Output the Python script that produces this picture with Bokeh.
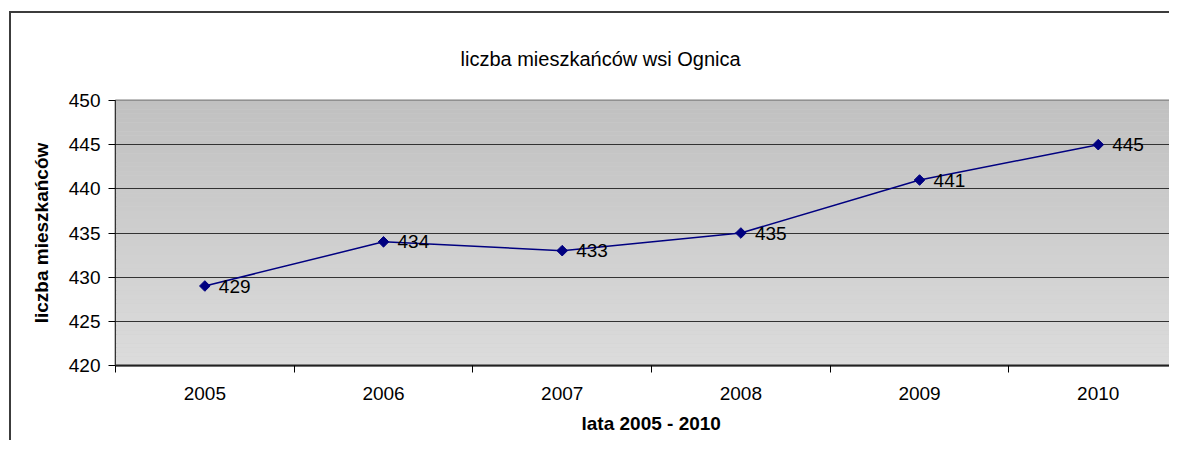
from bokeh.plotting import figure
from bokeh.models import (Range1d, FixedTicker, BoxAnnotation, ColumnDataSource, Title)
from bokeh.core.properties import value
from bokeh.embed import file_html
from bokeh.resources import INLINE
import math

# ---- data ----
years = ["2005", "2006", "2007", "2008", "2009", "2010"]
residents = [429, 434, 433, 435, 441, 445]
y_ticks = [420, 425, 430, 435, 440, 445, 450]
title_text = "liczba mieszkańców wsi Ognica"
x_title = "lata 2005 - 2010"
y_title = "liczba mieszkańców"

FONT = "Liberation Sans"

n = len(years)
xs = [i + 0.5 for i in range(n)]
x_view_end = 5.91   # the original chart is cut off at the right edge

p = figure(width=1160, height=429, output_backend="svg", toolbar_location=None,
           x_range=Range1d(0, x_view_end), y_range=Range1d(y_ticks[0], y_ticks[-1]),
           min_border_left=104, min_border_right=0, min_border_top=87,
           min_border_bottom=76)
p.title.visible = False
p.background_fill_color = "#d0d0d0"
p.border_fill_color = "white"
p.outline_line_color = "#808080"
p.outline_line_width = 2
p.styles = {"border-left": "2px solid #3c3c3c", "border-top": "2px solid #3c3c3c",
            "margin-left": "9px", "margin-top": "11px"}

t = Title(text=title_text, align="left", offset=345, text_font=FONT,
          text_font_size="20px", text_font_style="normal", text_color="black",
          standoff=61)
p.add_layout(t, "above")

xt = Title(text=x_title, align="left", offset=466, text_font=FONT,
           text_font_size="19px", text_font_style="bold", text_color="black",
           standoff=17)
p.add_layout(xt, "below")

# gradient plot background (styling bands)
nb = 60
y0, y1 = y_ticks[0], y_ticks[-1]
for k in range(nb):
    b = y0 + (y1 - y0) * k / nb
    tp = y0 + (y1 - y0) * (k + 1) / nb
    f = (k + 0.5) / nb
    c = int(round(0xdc + (0xc0 - 0xdc) * f))
    col = "#%02x%02x%02x" % (c, c, c)
    p.add_layout(BoxAnnotation(bottom=b, top=tp, fill_color=col, fill_alpha=1.0,
                               line_color=None, level="image"))

# grid
p.xgrid.visible = False
p.ygrid.ticker = FixedTicker(ticks=y_ticks[1:-1])
p.ygrid.grid_line_color = "#333333"
p.ygrid.grid_line_width = 1
p.ygrid.level = "underlay"

# x axis
p.xaxis.ticker = FixedTicker(ticks=xs, minor_ticks=list(range(n + 1)))
p.xaxis.major_label_overrides = {x: y for x, y in zip(xs, years)}
p.xaxis.major_tick_out = 0
p.xaxis.major_tick_in = 0
p.xaxis.minor_tick_out = 7
p.xaxis.minor_tick_in = 0
p.xaxis.minor_tick_line_color = "black"
p.xaxis.axis_line_color = "#222222"
p.xaxis.axis_line_width = 2
p.xaxis.major_label_text_font = FONT
p.xaxis.major_label_text_font_size = "19px"
p.xaxis.major_label_text_color = "black"
p.xaxis.major_label_standoff = 14

# y axis
p.yaxis.ticker = FixedTicker(ticks=y_ticks)
p.yaxis.major_tick_out = 7
p.yaxis.major_tick_in = 0
p.yaxis.minor_tick_line_color = None
p.yaxis.axis_line_color = "#333333"
p.yaxis.axis_line_width = 1
p.yaxis.major_label_text_font = FONT
p.yaxis.major_label_text_font_size = "19px"
p.yaxis.major_label_text_color = "black"
p.yaxis.major_label_standoff = 8
p.yaxis.axis_label = y_title
p.yaxis.axis_label_text_font = FONT
p.yaxis.axis_label_text_font_size = "19px"
p.yaxis.axis_label_text_font_style = "bold"
p.yaxis.axis_label_text_color = "black"
p.yaxis.axis_label_standoff = 14

src = ColumnDataSource(dict(x=xs, y=residents, lab=[str(v) for v in residents]))
p.line("x", "y", source=src, line_color="#000080", line_width=1.5)
p.scatter("x", "y", source=src, marker="square", angle=math.pi / 4, size=7.5,
          fill_color="#000080", line_color="#000080")
p.text("x", "y", text="lab", source=src, x_offset=14, text_align="left",
       text_baseline="middle", text_font=value(FONT), text_font_size="19px",
       text_color="black")

open("out.html", "w").write(file_html(p, INLINE))
